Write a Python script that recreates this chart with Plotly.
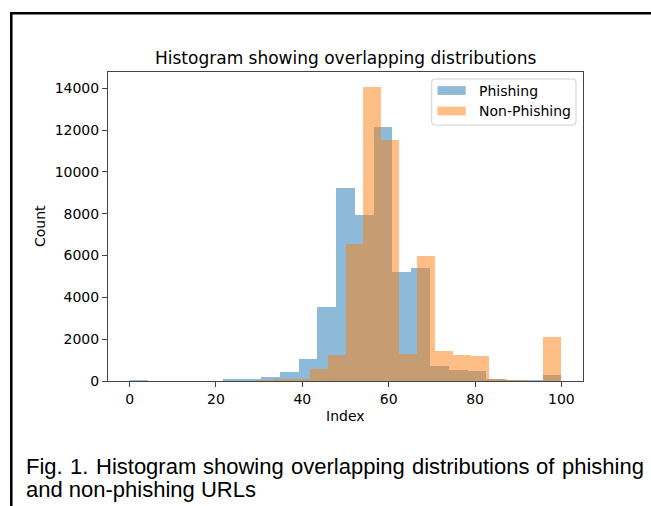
import numpy as np
import plotly.graph_objects as go

# ---- data ----
phishing_edges = np.linspace(0, 100, 24)      # 23 bins
nonphishing_edges = np.linspace(0, 100, 25)   # 24 bins

phishing_counts = [35, 0, 0, 0, 0, 60, 100, 180, 430, 1050, 3530, 9230, 7950,
                   12170, 5230, 5400, 740, 510, 490, 100, 30, 5, 310]
nonphishing_counts = [0, 0, 0, 0, 0, 0, 0, 40, 55, 110, 583, 1220, 6560, 14050,
                      11550, 1280, 5960, 1415, 1250, 1205, 95, 45, 0, 2128]

x_ticks = [0, 20, 40, 60, 80, 100]
y_ticks = [0, 2000, 4000, 6000, 8000, 10000, 12000, 14000]
series_names = ["Phishing", "Non-Phishing"]
title_text = "Histogram showing overlapping distributions"
caption_lines = ["Fig. 1. Histogram showing overlapping distributions of phishing",
                 "and non-phishing URLs"]

BLUE = "#1f77b4"
ORANGE = "#ff7f0e"

W, H = 651, 506
L, R, T, B = 108, 583, 72, 381   # plot area in pixels


def px(x):
    return (x - L) / (R - L)


def py(y):
    return (B - y) / (B - T)


def centers(edges):
    e = np.asarray(edges)
    return (e[:-1] + e[1:]) / 2, np.diff(e)


# Arial / Liberation Sans advance widths (per 1000 em) for justified caption
ARIAL_W = {"F": 611, "i": 222, "g": 556, ".": 278, "1": 556, "H": 722, "s": 500,
           "t": 278, "o": 556, "r": 333, "a": 556, "m": 833, "h": 556, "w": 722,
           "n": 556, "v": 500, "e": 556, "l": 222, "p": 556, "d": 556, "b": 556,
           "u": 556, "f": 278, "-": 333, "U": 722, "R": 722, "L": 556}


def word_w(word, size):
    return sum(ARIAL_W.get(ch, 556) for ch in word) * size / 1000.0


fig = go.Figure()
for name, edges, counts, col in [
    (series_names[0], phishing_edges, phishing_counts, BLUE),
    (series_names[1], nonphishing_edges, nonphishing_counts, ORANGE),
]:
    c, w = centers(edges)
    fig.add_trace(go.Bar(x=c, y=counts, width=w, name=name,
                         marker=dict(color=col, line=dict(width=0)),
                         opacity=0.5, showlegend=False))

axis_font = dict(family="DejaVu Sans", size=14, color="black")
spine = "#444444"

fig.update_layout(
    width=W, height=H,
    margin=dict(l=L, r=W - R, t=T, b=H - B, pad=0),
    paper_bgcolor="white", plot_bgcolor="white",
    barmode="overlay", bargap=0,
    font=axis_font,
    xaxis=dict(range=[-5, 105], tickvals=x_ticks, ticks="outside", ticklen=5,
               tickwidth=1, tickcolor=spine, showline=True, linecolor=spine,
               linewidth=1, mirror=True, showgrid=False, zeroline=False,
               tickfont=axis_font),
    yaxis=dict(range=[0, 14780], tickvals=y_ticks, tickformat="d", ticks="outside",
               ticklen=5, tickwidth=1, tickcolor=spine, showline=True,
               linecolor=spine, linewidth=1, mirror=True, showgrid=False,
               zeroline=False, tickfont=axis_font),
)

ann = []
ann.append(dict(text=title_text, xref="paper", yref="paper", x=0.5, y=py(58),
                xanchor="center", yanchor="middle", showarrow=False,
                font=dict(family="DejaVu Sans", size=17, color="black")))
ann.append(dict(text="Index", xref="paper", yref="paper", x=0.5, y=py(416),
                xanchor="center", yanchor="middle", showarrow=False,
                font=axis_font))
ann.append(dict(text="Count", xref="paper", yref="paper", x=px(40), y=py(226),
                xanchor="center", yanchor="middle", showarrow=False, textangle=-90,
                font=axis_font))

# caption: first line justified word by word, second line plain
cap_font = dict(family="Liberation Sans, Arial", size=22, color="black")
CAP_SIZE = 22
words = caption_lines[0].split(" ")
left_px, right_px = 25.0, 643.0
total = sum(word_w(wd, CAP_SIZE) for wd in words)
gap = (right_px - left_px - total) / (len(words) - 1)
xpos = left_px
for wd in words:
    ann.append(dict(text=wd, xref="paper", yref="paper", x=px(xpos), y=py(466),
                    xanchor="left", yanchor="middle", showarrow=False,
                    borderpad=0, font=cap_font))
    xpos += word_w(wd, CAP_SIZE) + gap
ann.append(dict(text=caption_lines[1], xref="paper", yref="paper", x=px(left_px), y=py(489),
                xanchor="left", yanchor="middle", showarrow=False, borderpad=0,
                font=cap_font))

# custom legend
shapes = []
x0, x1, y0, y1 = px(431.7), px(576), py(79), py(125)
rx, ry = 3 / (R - L), 3 / (B - T)
path = (f"M {x0+rx},{y0} L {x1-rx},{y0} Q {x1},{y0} {x1},{y0-ry} "
        f"L {x1},{y1+ry} Q {x1},{y1} {x1-rx},{y1} L {x0+rx},{y1} "
        f"Q {x0},{y1} {x0},{y1+ry} L {x0},{y0-ry} Q {x0},{y0} {x0+rx},{y0} Z")
shapes.append(dict(type="path", path=path, xref="paper", yref="paper",
                   line=dict(color="#d0d0d0", width=1),
                   fillcolor="rgba(255,255,255,0.8)"))
for name, col, yc in [(series_names[0], BLUE, 90.5), (series_names[1], ORANGE, 111)]:
    shapes.append(dict(type="rect", xref="paper", yref="paper",
                       x0=px(437.5), x1=px(465.7), y0=py(yc - 4.4), y1=py(yc + 4.4),
                       line=dict(width=0), fillcolor=col, opacity=0.5))
    ann.append(dict(text=name, xref="paper", yref="paper", x=px(477), y=py(yc),
                    xanchor="left", yanchor="middle", showarrow=False, font=axis_font))

# outer frame lines
shapes.append(dict(type="line", xref="paper", yref="paper", x0=px(10), x1=px(660),
                   y0=py(13.3), y1=py(13.3), line=dict(color="black", width=2.5)))
shapes.append(dict(type="line", xref="paper", yref="paper", x0=px(11.3), x1=px(11.3),
                   y0=py(12.1), y1=py(520), line=dict(color="black", width=2.5)))

fig.update_layout(annotations=ann, shapes=shapes)
fig.write_html("out.html")
